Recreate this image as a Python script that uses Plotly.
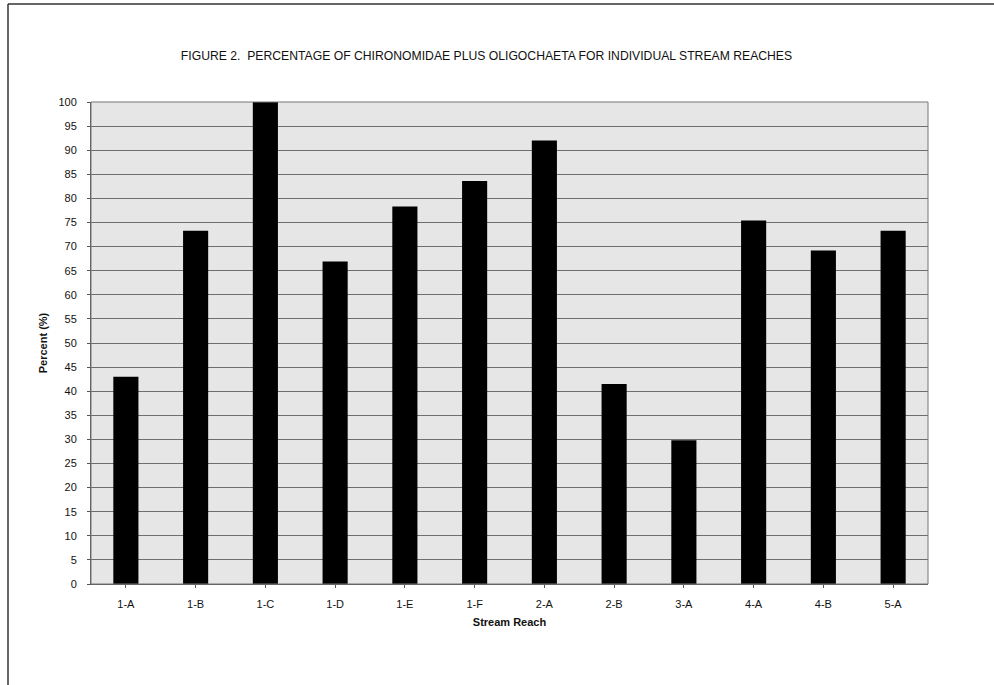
import plotly.graph_objects as go

reaches = ["1-A", "1-B", "1-C", "1-D", "1-E", "1-F", "2-A", "2-B", "3-A", "4-A", "4-B", "5-A"]
percent = [43, 73.3, 100, 66.9, 78.3, 83.6, 92.0, 41.5, 29.8, 75.4, 69.2, 73.3]
y_ticks = list(range(0, 101, 5))

FONT = "Liberation Sans, Arial, sans-serif"

W, H = 994, 685
L, R, T, B = 91, 66, 102, 101
PW, PH = W - L - R, H - T - B

fig = go.Figure()
fig.add_trace(go.Bar(
    x=reaches, y=percent,
    marker=dict(color="#000000", line=dict(width=0)),
    width=0.36,
    showlegend=False,
))


def px_x(x):
    return (x - L) / PW


def px_y(y):
    return (H - B - y) / PH


fig.update_layout(
    width=W, height=H,
    margin=dict(l=L, r=R, t=T, b=B),
    paper_bgcolor="#ffffff",
    plot_bgcolor="#e6e6e6",
    font=dict(family=FONT, size=11, color="#111111"),
    title=dict(
        text="FIGURE 2.  PERCENTAGE OF CHIRONOMIDAE PLUS OLIGOCHAETA FOR INDIVIDUAL STREAM REACHES",
        x=px_x(486.5), xref="paper", y=1 - 56 / H, yref="container",
        xanchor="center", yanchor="middle",
        font=dict(family=FONT, size=12.2, color="#111111"),
    ),
    xaxis=dict(
        title=dict(text="<b>Stream Reach</b>", font=dict(size=11), standoff=9),
        showgrid=False,
        showline=True, linecolor="#555555", linewidth=1,
        ticks="outside", ticklen=3, tickcolor="#555555",
        ticklabelstandoff=7,
        tickfont=dict(size=11),
    ),
    yaxis=dict(
        title=dict(text="<b>Percent (%)</b>", font=dict(size=11), standoff=8),
        range=[0, 100],
        tickvals=y_ticks,
        showgrid=True, gridcolor="#6e6e6e", gridwidth=1,
        showline=True, linecolor="#555555", linewidth=1,
        ticks="outside", ticklen=3, tickcolor="#555555",
        ticklabelstandoff=8,
        tickfont=dict(size=11),
        zeroline=False,
    ),
    shapes=[
        dict(type="line", xref="paper", yref="paper",
             x0=px_x(8), x1=px_x(W), y0=px_y(4), y1=px_y(4),
             line=dict(color="#333333", width=1.5)),
        dict(type="line", xref="paper", yref="paper",
             x0=px_x(8), x1=px_x(8), y0=px_y(4), y1=px_y(H),
             line=dict(color="#333333", width=1.5)),
        dict(type="rect", xref="paper", yref="paper", x0=0, x1=1, y0=0, y1=1,
             line=dict(color="#777777", width=1), layer="above"),
    ],
)

fig.write_html("out.html", config={"displayModeBar": False},
               post_script="document.body.style.margin='0';document.body.style.padding='0';")
